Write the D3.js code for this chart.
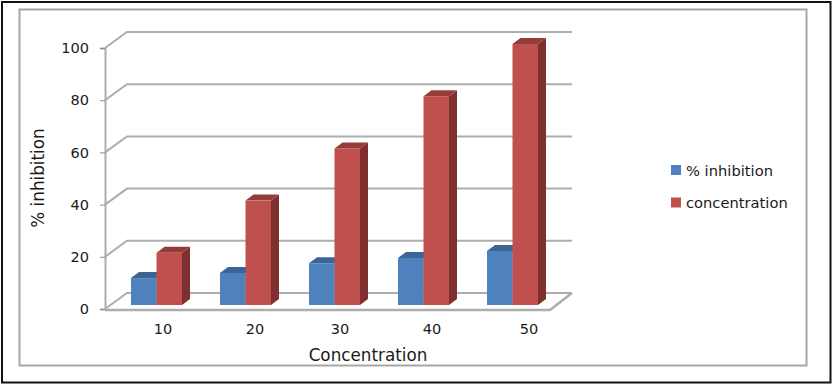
<!DOCTYPE html>
<html>
<head>
<meta charset="utf-8">
<script src="https://cdn.jsdelivr.net/npm/d3@7"></script>
<style>
  body { margin: 0; background: #fff; }
  text { font-family: "DejaVu Sans", sans-serif; fill: #1a1a1a; }
</style>
</head>
<body>
<svg></svg>
<script>
const categories = ["10", "20", "30", "40", "50"];
const inhibition = [10.3, 12.3, 16, 18, 20.7];
const concentration = [20, 40, 60, 80, 100];
const yTicks = [0, 20, 40, 60, 80, 100];
const seriesNames = ["% inhibition", "concentration"];

const width = 835, height = 387;
const svg = d3.select("svg").attr("width", width).attr("height", height);

const gridColor = "#adadad";
const colors = [
    { front: "#4f81bd", top: "#3c6494", side: "#375d8a" },
    { front: "#c0504d", top: "#943c39", side: "#7f2f2d" }
];

// Front plane of the 3d box, the back wall sits up and to the right of it
const x = d3.scaleBand().domain(categories).range([105, 550]);
const y = d3.scaleLinear().domain([0, 100]).range([309, 48]);
const depthX = 22, depthY = 16;
const barDepthX = 8, barDepthY = 6;
const barWidth = 25.5;
const barInsetX = 7, barInsetY = 4; // bars stand a bit inside the floor

// Frames
svg.append("rect").attr("x", 2).attr("y", 2).attr("width", 828.5).attr("height", 380.5)
    .attr("fill", "#fff").attr("stroke", "#111").attr("stroke-width", 2);
svg.append("rect").attr("x", 19.5).attr("y", 9.5).attr("width", 787).attr("height", 356)
    .attr("fill", "#fff").attr("stroke", "#a6a6a6").attr("stroke-width", 2);

// Wall gridlines, one slanted piece and one along the back
const grid = svg.append("g").attr("fill", "none").attr("stroke", gridColor).attr("stroke-width", 2);
grid.selectAll("path")
    .data(yTicks)
    .enter().append("path")
    .attr("d", d => {
        const p = d3.path();
        p.moveTo(x.range()[0], y(d));
        p.lineTo(x.range()[0] + depthX, y(d) - depthY);
        p.lineTo(x.range()[1] + depthX, y(d) - depthY);
        return p.toString();
    });

// Floor right edge and front edge
const floor = d3.path();
floor.moveTo(x.range()[0], y(0) + 1);
floor.lineTo(x.range()[1], y(0) + 1);
floor.lineTo(x.range()[1] + depthX, y(0) - depthY);
svg.append("path").attr("d", floor.toString())
    .attr("fill", "none").attr("stroke", gridColor).attr("stroke-width", 2.5);

// Bars, blue first so the red ones cover their side
function drawBars(values, i) {
    const c = colors[i];
    const g = svg.append("g").selectAll("g")
        .data(values)
        .enter().append("g");
    const left = (d, k) => x(categories[k]) + x.bandwidth() / 2 + barInsetX - barWidth + i * barWidth;
    const top = d => y(d) - barInsetY;
    const base = y(0) - barInsetY;

    g.append("path").attr("fill", c.side)
        .attr("d", (d, k) => {
            const r = left(d, k) + barWidth;
            return `M${r},${top(d)}L${r + barDepthX},${top(d) - barDepthY}L${r + barDepthX},${base - barDepthY}L${r},${base}Z`;
        });
    g.append("path").attr("fill", c.top)
        .attr("d", (d, k) => {
            const l = left(d, k);
            return `M${l},${top(d)}L${l + barDepthX},${top(d) - barDepthY}L${l + barWidth + barDepthX},${top(d) - barDepthY}L${l + barWidth},${top(d)}Z`;
        });
    g.append("rect").attr("fill", c.front)
        .attr("x", left)
        .attr("y", top)
        .attr("width", barWidth)
        .attr("height", d => base - top(d));
}
drawBars(inhibition, 0);
drawBars(concentration, 1);

// Y axis
const yAxis = svg.append("g").attr("transform", "translate(105,0)")
    .call(d3.axisLeft(y).tickValues(yTicks).tickSize(5).tickPadding(11));
yAxis.select(".domain").attr("stroke", gridColor).attr("stroke-width", 2);
yAxis.selectAll(".tick line").attr("stroke", "#8c8c8c");
yAxis.selectAll("text").attr("font-size", 14.5).style("font-family", '"DejaVu Sans", sans-serif');

// X axis, the labels sit unevenly in the source
const labelShift = [13.5, 16.5, 12.5, 15.5, 23.5];
const xAxis = svg.append("g").attr("transform", "translate(0,321)")
    .call(d3.axisBottom(x).tickSize(0).tickPadding(3));
xAxis.select(".domain").remove();
xAxis.selectAll("text")
    .attr("font-size", 14.5)
    .style("font-family", '"DejaVu Sans", sans-serif')
    .attr("dx", (d, i) => labelShift[i]);

// Axis titles
svg.append("text").attr("x", 368).attr("y", 361).attr("text-anchor", "middle")
    .attr("font-size", 16.8).text("Concentration");
svg.append("text").attr("transform", "translate(44,178) rotate(-90)").attr("text-anchor", "middle")
    .attr("font-size", 16.8).text("% inhibition");

// Legend
const legend = svg.append("g").selectAll("g")
    .data(seriesNames)
    .enter().append("g")
    .attr("transform", (d, i) => `translate(671,${165 + i * 32.5})`);
legend.append("rect").attr("width", 10).attr("height", 10)
    .attr("fill", (d, i) => colors[i].front);
legend.append("text").attr("x", 15).attr("y", 10.5)
    .attr("font-size", 14.7).text(d => d);
</script>
</body>
</html>
